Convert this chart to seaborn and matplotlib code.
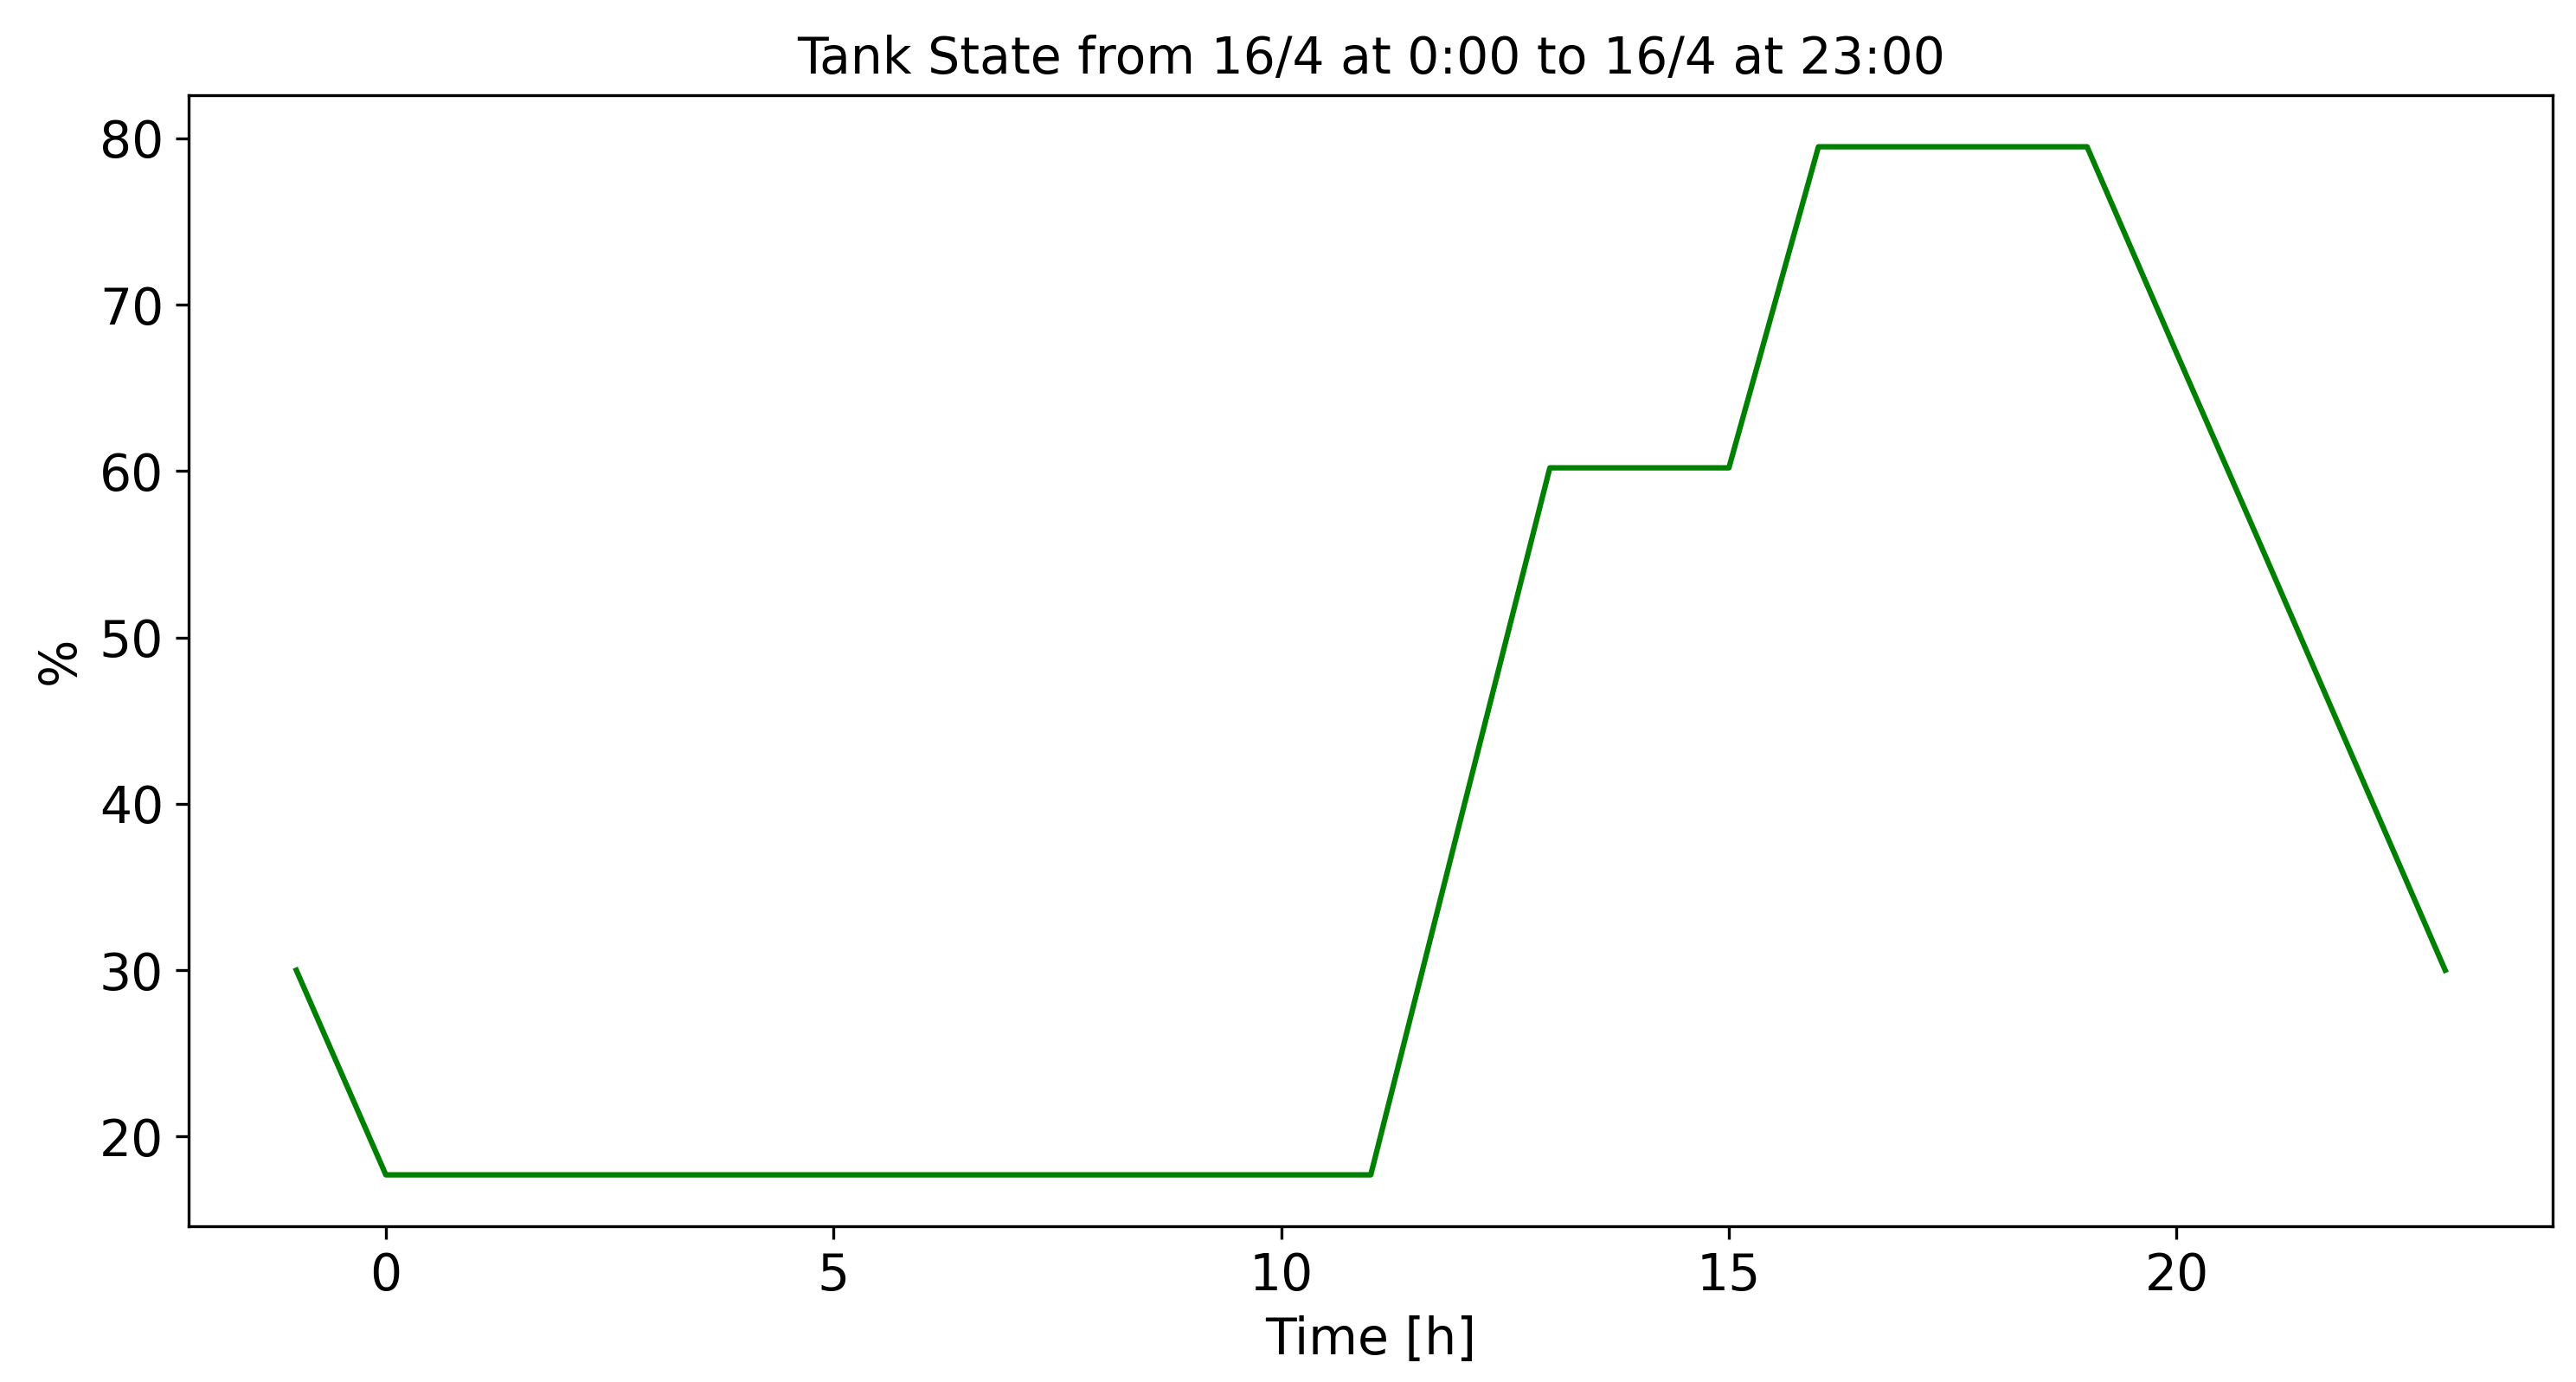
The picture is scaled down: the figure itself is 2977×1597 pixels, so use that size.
import matplotlib
matplotlib.use('Agg')

import seaborn as sns
import pandas as pd
from matplotlib import pyplot as plt

hours = list(range(-1, 24))
level = [30.0, 17.7, 17.7, 17.7, 17.7, 17.7, 17.7, 17.7, 17.7, 17.7, 17.7, 17.7, 17.7,
         39.0, 60.2, 60.2, 60.2, 79.5, 79.5, 79.5, 79.5, 67.1, 54.8, 42.4, 30.0]

df = pd.DataFrame({'hour': hours, 'level': level})

fig, ax = plt.subplots(figsize=(2978 / 300, 1597 / 300), dpi=300)
fig.subplots_adjust(left=0.0733, right=0.9906, top=0.931, bottom=0.1127)

sns.lineplot(data=df, x='hour', y='level', color='green', linewidth=1.5, ax=ax)

ax.set_title('Tank State from 16/4 at 0:00 to 16/4 at 23:00', fontsize=14)
ax.set_xlabel('Time [h]', fontsize=14)
ax.set_ylabel('%', fontsize=14)
ax.tick_params(labelsize=14)
ax.set_xticks([0, 5, 10, 15, 20])

plt.savefig('out.png', dpi=300)
